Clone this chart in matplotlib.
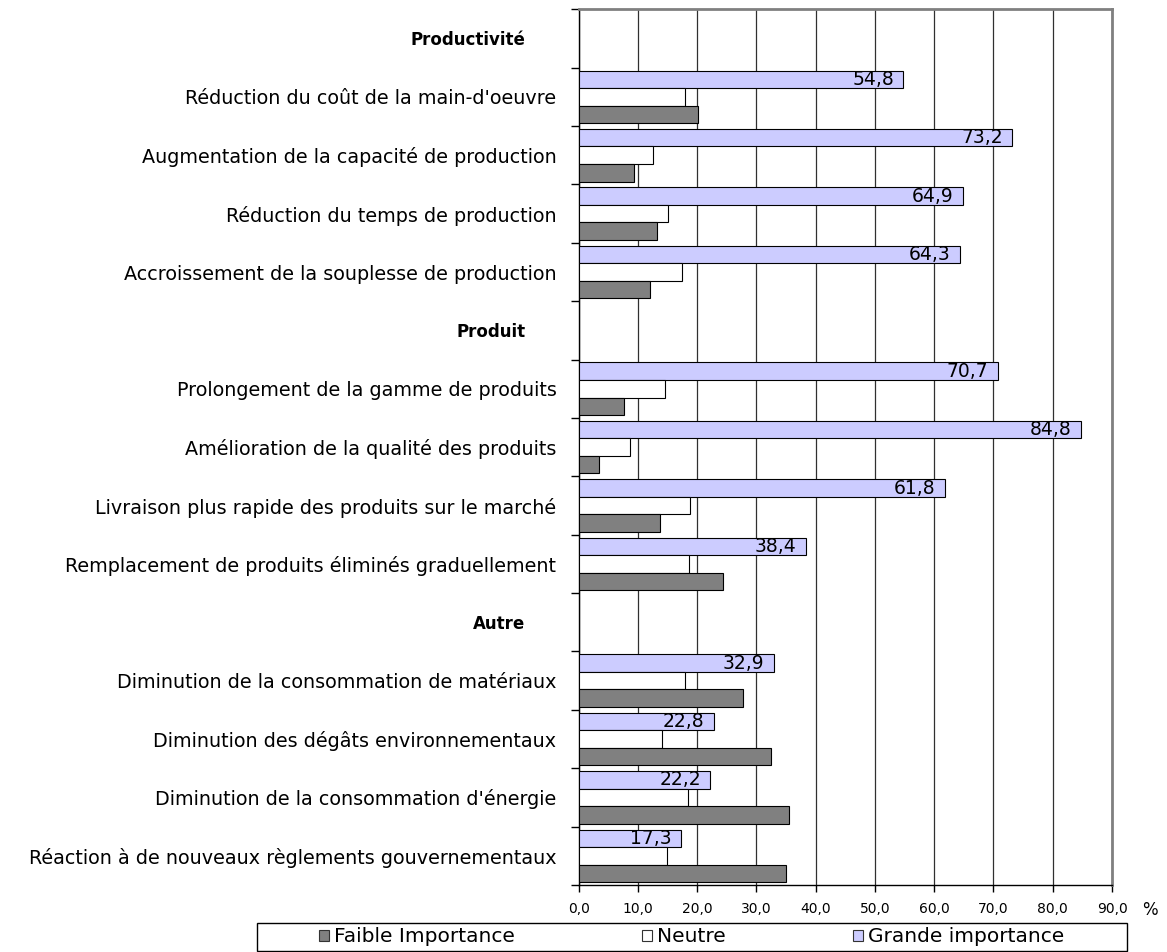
import matplotlib.pyplot as plt
from matplotlib.patches import Patch, Rectangle
from matplotlib.transforms import ScaledTranslation

# Rows from top to bottom; group headings have no bars
rows = ["Productivité",
        "Réduction du coût de la main-d'oeuvre",
        "Augmentation de la capacité de production",
        "Réduction du temps de production",
        "Accroissement de la souplesse de production",
        "Produit",
        "Prolongement de la gamme de produits",
        "Amélioration de la qualité des produits",
        "Livraison plus rapide des produits sur le marché",
        "Remplacement de produits éliminés graduellement",
        "Autre",
        "Diminution de la consommation de matériaux",
        "Diminution des dégâts environnementaux",
        "Diminution de la consommation d'énergie",
        "Réaction à de nouveaux règlements gouvernementaux"]
headers = ["Productivité", "Produit", "Autre"]

# percentages per row (None = heading row)
faible = [None, 20.1, 9.3, 13.2, 12.0, None, 7.7, 3.4, 13.7, 24.4,
          None, 27.8, 32.5, 35.5, 35.0]
neutre = [None, 17.9, 12.5, 15.1, 17.5, None, 14.6, 8.7, 18.7, 18.6,
          None, 18.0, 14.0, 18.4, 14.9]
grande = [None, 54.8, 73.2, 64.9, 64.3, None, 70.7, 84.8, 61.8, 38.4,
          None, 32.9, 22.8, 22.2, 17.3]

series = ["Faible Importance", "Neutre", "Grande importance"]
colors = ["#808080", "#ffffff", "#ccccff"]

W, H = 1167, 952
fig = plt.figure(figsize=(W / 100, H / 100), dpi=100)
ax = fig.add_axes([578.7 / W, 1 - 885 / H, (1112 - 578.7) / W, (885 - 9.3) / H])

bh = 0.3
for vals, offset, col in [(grande, -bh, colors[2]), (neutre, 0, colors[1]),
                          (faible, bh, colors[0])]:
    idx = [i for i, v in enumerate(vals) if v is not None]
    ax.barh([i + 0.5 + offset for i in idx], [vals[i] for i in idx], height=bh,
            color=col, edgecolor="black", linewidth=0.8, zorder=3)

# value labels inside the "Grande importance" bars
for i, v in enumerate(grande):
    if v is None:
        continue
    ax.text(v - 1.6, i + 0.5 - bh, f"{v:.1f}".replace(".", ","), ha="right",
            va="center", fontsize=13.5, zorder=4)

ax.set_xlim(0, 90)
ax.set_ylim(len(rows), 0)
ax.set_xticks(range(0, 91, 10))
ax.set_xticklabels([f"{v:.1f}".replace(".", ",") for v in range(0, 91, 10)])
ax.tick_params(axis="x", direction="out", length=5, width=1, labelsize=10, pad=7)

ax.set_yticks([i + 0.5 for i in range(len(rows))])
ax.set_yticklabels(rows, fontsize=13.8)
ax.tick_params(axis="y", which="major", length=0, pad=16)
ax.set_yticks(range(len(rows) + 1), minor=True)
ax.tick_params(axis="y", which="minor", direction="out", length=6, width=1)

shift = ScaledTranslation(-0.31, 0, fig.dpi_scale_trans)
for lab in ax.get_yticklabels():
    if lab.get_text() in headers:
        lab.set_fontweight("bold")
        lab.set_fontsize(12)
        lab.set_transform(lab.get_transform() + shift)

ax.xaxis.grid(True, color="#303030", linewidth=0.9)
ax.set_axisbelow(True)
for side in ["left", "bottom"]:
    ax.spines[side].set_color("black")
    ax.spines[side].set_linewidth(1)
for side in ["top", "right"]:
    ax.spines[side].set_color("#808080")
    ax.spines[side].set_linewidth(2)

fig.text(1150 / W, 1 - 910 / H, "%", ha="center", va="center", fontsize=12)

# legend box along the bottom
fig.add_artist(Rectangle((257 / W, 1 - 951 / H), (1127 - 257) / W, 28 / H,
                         transform=fig.transFigure, fill=False,
                         edgecolor="black", linewidth=1))
handles = [Patch(facecolor=c, edgecolor="#333333", linewidth=0.8) for c in colors]
fig.legend(handles, series, loc="center left",
           bbox_to_anchor=(319 / W, 1 - 937 / H), ncol=3, frameon=False,
           handlelength=0.5, handleheight=0.5, handletextpad=0.25,
           columnspacing=6.3, borderpad=0, borderaxespad=0, fontsize=14.5)

fig.savefig("out.png", dpi=100)
